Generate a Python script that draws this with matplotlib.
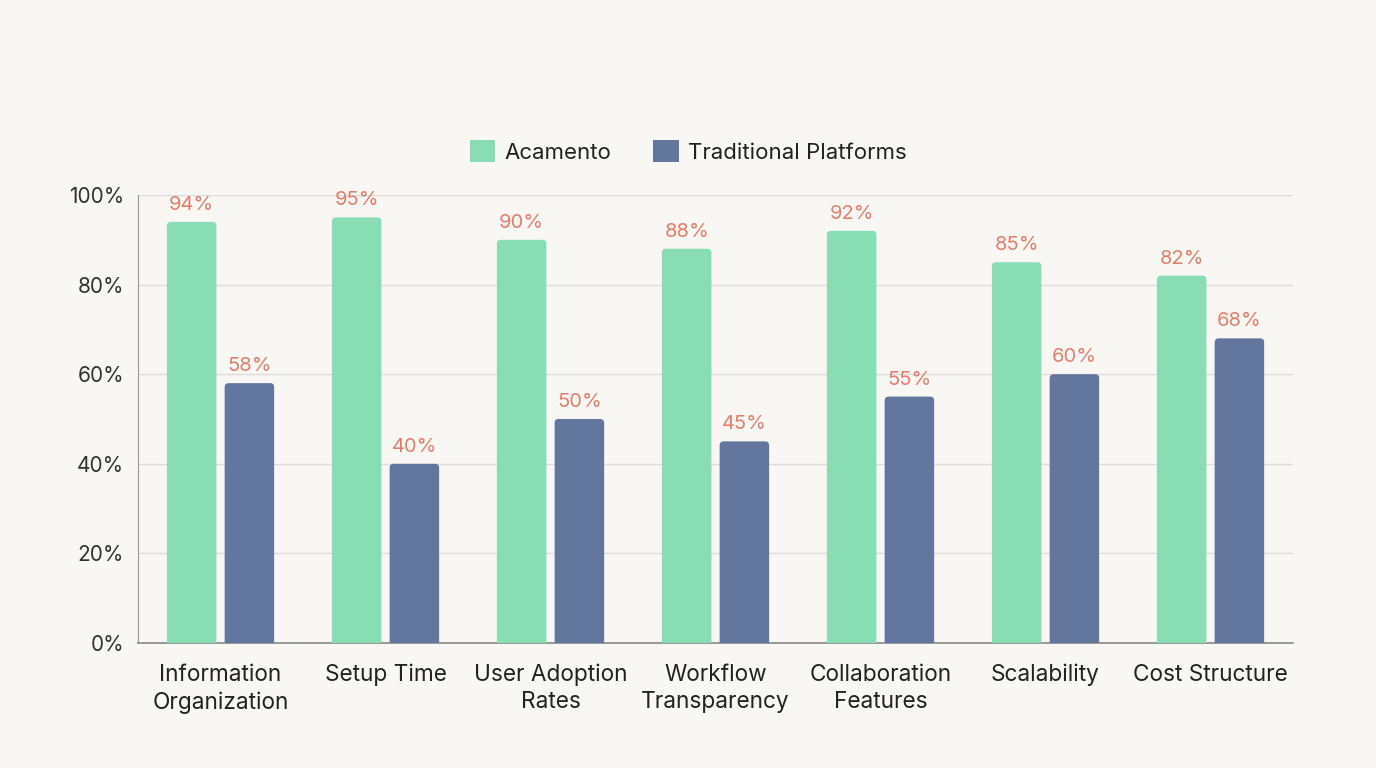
import matplotlib
matplotlib.use("Agg")
import matplotlib.pyplot as plt
from matplotlib.patches import FancyBboxPatch, Patch
import numpy as np

categories = ["Information\nOrganization", "Setup Time", "User Adoption\nRates",
              "Workflow\nTransparency", "Collaboration\nFeatures", "Scalability", "Cost Structure"]
acamento = [94, 95, 90, 88, 92, 85, 82]
traditional = [58, 40, 50, 45, 55, 60, 68]
yticks = [0, 20, 40, 60, 80, 100]

plt.rcParams['font.family'] = ['Inter', 'DejaVu Sans']
bg = "#F8F7F3"
green = "#88DDB5"
blue = "#62769E"
lab = "#E07F6E"

fig = plt.figure(figsize=(13.76, 7.68), dpi=100, facecolor=bg)
ax = fig.add_axes([0.1003, 0.1628, 0.8394, 0.5833], facecolor=bg)

x = np.arange(len(categories))
w = 0.30
off = 0.175
ax.set_xlim(-0.5, len(categories) - 0.5)
ax.set_ylim(0, 100)

b1 = ax.bar(x - off, acamento, w, color=green, label="Acamento", zorder=3)
b2 = ax.bar(x + off, traditional, w, color=blue, label="Traditional Platforms", zorder=3)

# replace bars with slightly rounded-top versions
fig.canvas.draw()
bb = ax.get_window_extent()
px_x = bb.width / (ax.get_xlim()[1] - ax.get_xlim()[0])
px_y = bb.height / (ax.get_ylim()[1] - ax.get_ylim()[0])
aspect = px_x / px_y
r = 4.0 / px_x
for bars in (b1, b2):
    for p in bars.patches:
        p.set_visible(False)
        fb = FancyBboxPatch((p.get_x(), -3), p.get_width(), p.get_height() + 3,
                            boxstyle=f"round,pad=0,rounding_size={r}",
                            mutation_aspect=aspect, facecolor=p.get_facecolor(),
                            edgecolor="none", zorder=3, clip_on=True)
        ax.add_patch(fb)

for xi, v in zip(x - off, acamento):
    ax.text(xi, v + 1.8, f"{v}%", ha="center", va="bottom", color=lab, fontsize=14.5, zorder=4)
for xi, v in zip(x + off, traditional):
    ax.text(xi, v + 1.8, f"{v}%", ha="center", va="bottom", color=lab, fontsize=14.5, zorder=4)

ax.set_yticks(yticks)
ax.set_yticklabels([f"{t}%" for t in yticks], fontsize=15, color="#333333")
ax.set_xticks(x)
ax.set_xticklabels(categories, fontsize=16.3, color="#222222", linespacing=1.3)
ax.tick_params(axis="both", length=0, pad=10)
ax.tick_params(axis="x", pad=15)
ax.grid(axis="y", color="#DCDCDA", linewidth=1, zorder=0)
for s in ["top", "right"]:
    ax.spines[s].set_visible(False)
ax.spines["left"].set_color("#999999")
ax.spines["bottom"].set_color("#888888")
ax.spines["bottom"].set_linewidth(1.2)

handles = [Patch(facecolor=green, edgecolor="none", label="Acamento"),
           Patch(facecolor=blue, edgecolor="none", label="Traditional Platforms")]
leg = fig.legend(handles=handles, loc="center", bbox_to_anchor=(0.5, 0.803), ncol=2,
                 frameon=False, fontsize=16, handlelength=1.15, handleheight=1.15,
                 columnspacing=1.9, handletextpad=0.4)
for t in leg.get_texts():
    t.set_color("#222222")

fig.savefig("out.png", dpi=100, facecolor=bg)
